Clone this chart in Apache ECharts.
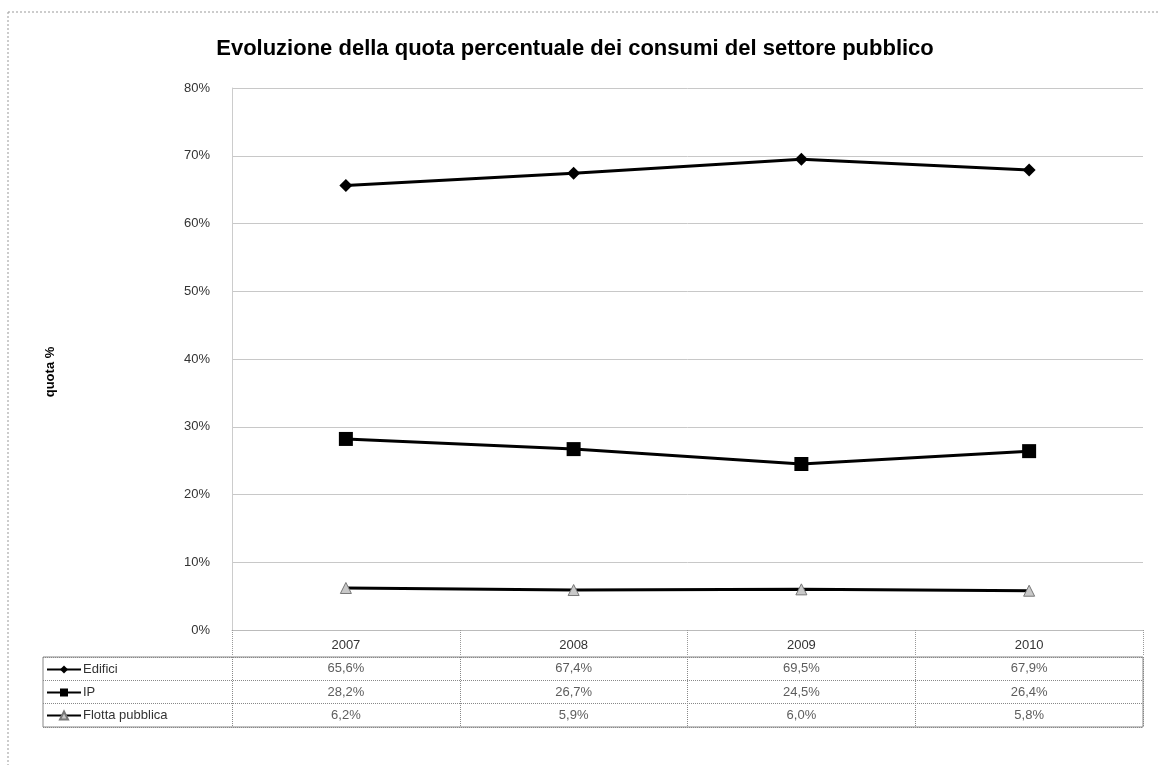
<!DOCTYPE html>
<html><head><meta charset="utf-8">
<script src="https://cdn.jsdelivr.net/npm/echarts@6/dist/echarts.min.js"></script>
<style>html,body{margin:0;padding:0;background:#fff}#c{width:1158px;height:765px}</style>
</head><body><div id="c"></div>
<script>
const years = ['2007', '2008', '2009', '2010'];
const seriesNames = ['Edifici', 'IP', 'Flotta pubblica'];
const edifici = [65.6, 67.4, 69.5, 67.9];
const ip = [28.2, 26.7, 24.5, 26.4];
const flotta = [6.2, 5.9, 6.0, 5.8];
const yTicks = [0, 10, 20, 30, 40, 50, 60, 70, 80];

const allValues = [edifici, ip, flotta];
const fmt = v => v.toFixed(1).replace('.', ',') + '%';
const cellData = [];
allValues.forEach((arr, r) => arr.forEach((v, c) => cellData.push([years[c], seriesNames[r], v])));

const font = '"Liberation Sans", Arial, sans-serif';
const chart = echarts.init(document.getElementById('c'));
const lineCommon = {type: 'line', xAxisIndex: 0, yAxisIndex: 0, lineStyle: {color: '#000', width: 3}, z: 5};
chart.setOption({
  backgroundColor: '#fff',
  animation: false,
  textStyle: {fontFamily: font},
  title: {
    text: 'Evoluzione della quota percentuale dei consumi del settore pubblico',
    left: 570, top: 33, textAlign: 'center',
    textStyle: {fontSize: 22, fontWeight: 'bold', color: '#000', fontFamily: font}
  },
  legend: {
    orient: 'vertical', left: 41, top: 658, itemWidth: 34, itemHeight: 10, itemGap: 10,
    data: seriesNames,
    textStyle: {fontSize: 13, color: '#333', fontFamily: font, padding: [0, 0, 0, -3]}
  },
  graphic: [
    {type: 'line', shape: {x1: 8, y1: 12, x2: 1158, y2: 12}, style: {stroke: '#999', lineDash: [2, 2], lineWidth: 1}},
    {type: 'line', shape: {x1: 8, y1: 12, x2: 8, y2: 765}, style: {stroke: '#999', lineDash: [2, 2], lineWidth: 1}}
  ],
  grid: [
    {left: 232, right: 15, top: 88, bottom: 135},
    {left: 43, right: 15, top: 657, bottom: 38, show: true, borderColor: '#888', borderWidth: 1},
    {left: 232, right: 15, top: 657, bottom: 38}
  ],
  xAxis: [
    {type: 'category', gridIndex: 0, data: years, boundaryGap: true,
     axisLine: {lineStyle: {color: '#bbb'}},
     axisTick: {show: true, inside: false, length: 26, lineStyle: {color: '#999', type: 'dotted'}},
     axisLabel: {fontSize: 13, color: '#333', margin: 9, fontFamily: font},
     splitLine: {show: false}},
    {type: 'category', gridIndex: 1, data: ['a'], show: false},
    {type: 'category', gridIndex: 2, data: years, boundaryGap: true,
     axisLine: {show: false}, axisTick: {show: false}, axisLabel: {show: false},
     splitLine: {show: true, lineStyle: {color: '#888', type: 'dotted'}}}
  ],
  yAxis: [
    {type: 'value', gridIndex: 0, min: 0, max: 80, interval: 10,
     name: 'quota %', nameLocation: 'middle', nameGap: 175, nameRotate: 90,
     nameTextStyle: {fontSize: 13, fontWeight: 'bold', color: '#000', fontFamily: font, padding: [0, 26, 0, 0]},
     axisLine: {show: true, lineStyle: {color: '#ccc'}}, axisTick: {show: false},
     axisLabel: {fontSize: 13, color: '#333', margin: 22, formatter: v => yTicks.includes(v) ? v + '%' : '', fontFamily: font},
     splitLine: {show: true, lineStyle: {color: '#c8c8c8', width: 1}}},
    {type: 'category', gridIndex: 1, data: seriesNames, inverse: true, boundaryGap: true,
     axisLine: {show: false}, axisTick: {show: false}, axisLabel: {show: false},
     splitLine: {show: true, lineStyle: {color: '#888', type: 'dotted'}}},
    {type: 'category', gridIndex: 2, data: seriesNames, inverse: true, show: false}
  ],
  series: [
    Object.assign({}, lineCommon, {name: seriesNames[0], data: edifici, symbol: 'diamond', symbolSize: 13,
      itemStyle: {color: '#000'}}),
    Object.assign({}, lineCommon, {name: seriesNames[1], data: ip, symbol: 'rect', symbolSize: 14,
      itemStyle: {color: '#000'}}),
    Object.assign({}, lineCommon, {name: seriesNames[2], data: flotta, symbol: 'triangle', symbolSize: 11,
      itemStyle: {color: '#c8c8c8', borderColor: '#777', borderWidth: 1}}),
    {type: 'scatter', xAxisIndex: 2, yAxisIndex: 2, data: cellData, symbolSize: 0,
     silent: true, legendHoverLink: false,
     label: {show: true, position: 'inside', fontSize: 13, color: '#333', fontFamily: font,
             formatter: p => fmt(p.data[2])}}
  ]
});
</script></body></html>
